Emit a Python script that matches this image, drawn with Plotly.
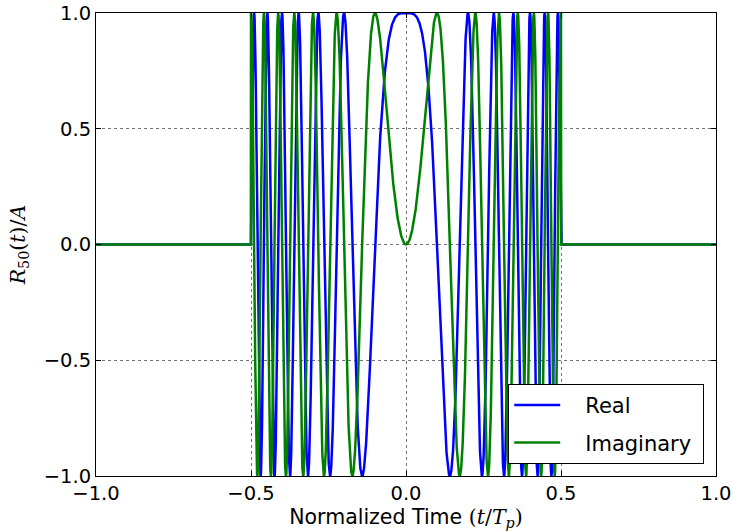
import numpy as np
import plotly.graph_objects as go

# Chirp pulse parameters (as labelled: R_50 -> time-bandwidth product 50, pulse width T_p = 1)
time_bandwidth = 50
pulse_width = 1.0
t_start, t_stop, n_samples = -1.0, 1.0, 4001

series_names = ["Real", "Imaginary"]
series_colors = ["#0000ff", "#008000"]
x_ticks = [-1.0, -0.5, 0.0, 0.5, 1.0]
y_ticks = [-1.0, -0.5, 0.0, 0.5, 1.0]

t = np.linspace(t_start, t_stop, n_samples)
inside = np.abs(t) <= pulse_width / 2
phase = np.pi * time_bandwidth * (t / pulse_width) ** 2
real = np.where(inside, np.cos(phase), 0.0)
imag = np.where(inside, np.sin(phase), 0.0)

fig = go.Figure()
for name, color, vals in zip(series_names, series_colors, [real, imag]):
    fig.add_trace(go.Scatter(x=t, y=vals, mode="lines",
                             name="\u00a0\u00a0\u00a0" + name + "\u00a0",
                             legendgroup=name,
                             line=dict(color=color, width=2.5)))

axis_common = dict(
    showline=True, linecolor="black", linewidth=1, mirror="ticks",
    ticks="inside", ticklen=5, tickcolor="black",
    showgrid=True, gridcolor="rgba(0,0,0,0.55)", griddash="dot", gridwidth=1,
    zeroline=False, tickfont=dict(family="DejaVu Sans", size=19.5, color="black"),
)

fig.update_layout(
    width=733, height=531,
    margin=dict(l=96, r=17, t=13, b=55, autoexpand=False),
    paper_bgcolor="white", plot_bgcolor="white",
    xaxis=dict(range=[-1, 1], tickvals=x_ticks, ticktext=[f"{v:.1f}".replace("-", "\u2212") for v in x_ticks],
               title=dict(text='Normalized Time <span style="font-family:DejaVu Serif">(<i>t</i>/<i>T</i><sub><i>p</i></sub>)</span>',
                          font=dict(family="DejaVu Sans", size=20.5, color="black"), standoff=4),
               **axis_common),
    yaxis=dict(range=[-1, 1], tickvals=y_ticks, ticktext=[f"{v:.1f}".replace("-", "\u2212") for v in y_ticks],
               title=dict(text="<i>R</i><sub>50</sub>(<i>t</i>)/<i>A</i>",
                          font=dict(family="DejaVu Serif", size=20.5, color="black"), standoff=12),
               **axis_common),
    legend=dict(x=0.981, y=0.026, xanchor="right", yanchor="bottom",
                bgcolor="white", bordercolor="black", borderwidth=1,
                font=dict(family="DejaVu Sans", size=21, color="black"),
                itemwidth=46, traceorder="grouped", tracegroupgap=7),
    showlegend=True,
)

fig.write_html("out.html", config={"displayModeBar": False},
               post_script="document.body.style.margin='0';document.body.style.padding='0';")
